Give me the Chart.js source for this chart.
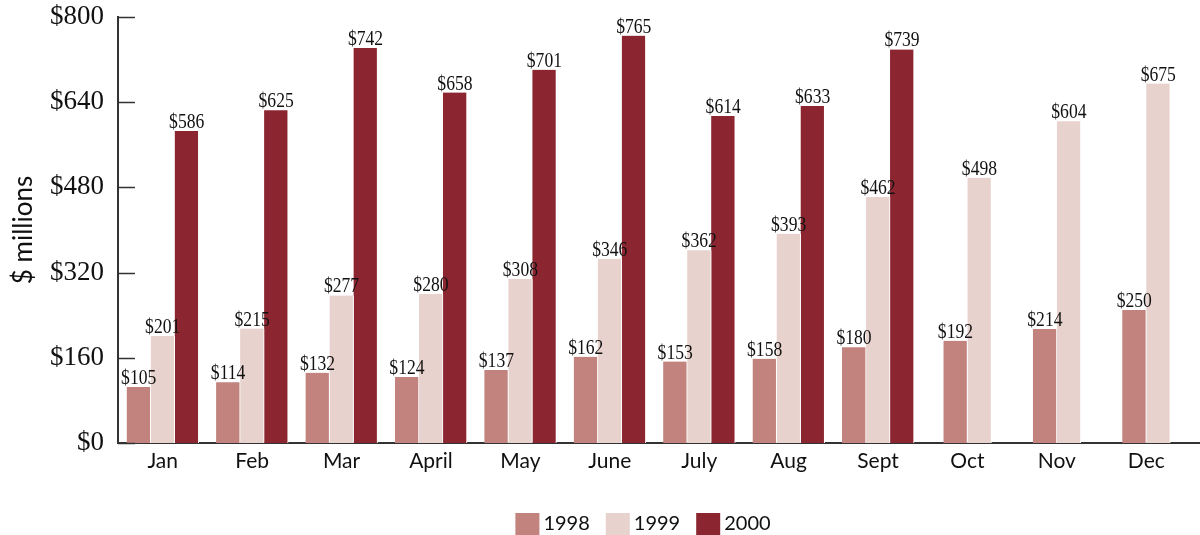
<!DOCTYPE html>
<html>
<head>
<meta charset="utf-8">
<script src="https://cdn.jsdelivr.net/npm/chart.js@4.4.1/dist/chart.umd.min.js"></script>
<style>
  html, body { margin: 0; padding: 0; background: #fff; }
  #wrap { width: 1200px; height: 535px; }
</style>
</head>
<body>
<div id="wrap"><canvas id="chart" width="1200" height="535"></canvas></div>
<script>
// Monthly values, $ millions
const months = ['Jan', 'Feb', 'Mar', 'April', 'May', 'June', 'July', 'Aug', 'Sept', 'Oct', 'Nov', 'Dec'];
const sales1998 = [105, 114, 132, 124, 137, 162, 153, 158, 180, 192, 214, 250];
const sales1999 = [201, 215, 277, 280, 308, 346, 362, 393, 462, 498, 604, 675];
const sales2000 = [586, 625, 742, 658, 701, 765, 614, 633, 739, null, null, null];
const yTicks = [0, 160, 320, 480, 640, 800];

const serif = '"Liberation Serif", "DejaVu Serif", serif';
const sans = 'Lato, "Open Sans", sans-serif';

// value labels above each bar, drawn a bit condensed
const barLabels = {
    id: 'barLabels',
    afterDatasetsDraw(chart) {
        const ctx = chart.ctx;
        ctx.save();
        ctx.fillStyle = '#111';
        ctx.font = '22px ' + serif;
        ctx.textAlign = 'center';
        ctx.textBaseline = 'alphabetic';
        chart.data.datasets.forEach((ds, i) => {
            chart.getDatasetMeta(i).data.forEach((bar, j) => {
                const v = ds.data[j];
                if (v == null) return;
                ctx.save();
                ctx.translate(bar.x, bar.y - 3);
                ctx.scale(0.8, 1);
                ctx.fillText('$' + v, 0, 0);
                ctx.restore();
            });
        });
        ctx.restore();
    }
};

// short tick marks pointing into the plot, and the x axis run out to the edge
const innerTicks = {
    id: 'innerTicks',
    afterDraw(chart) {
        const ctx = chart.ctx;
        const y = chart.scales.y;
        const area = chart.chartArea;
        ctx.save();
        ctx.strokeStyle = '#333';
        ctx.lineWidth = 1.5;
        yTicks.forEach(t => {
            const py = Math.round(y.getPixelForValue(t)) + 0.5;
            ctx.beginPath();
            ctx.moveTo(y.right, py);
            ctx.lineTo(y.right + 17, py);
            ctx.stroke();
        });
        ctx.lineWidth = 2;
        ctx.beginPath();
        ctx.moveTo(area.right - 1, area.bottom);
        ctx.lineTo(chart.width, area.bottom);
        ctx.stroke();
        ctx.restore();
    }
};

// legend row under the x axis
const bottomLegend = {
    id: 'bottomLegend',
    afterDraw(chart) {
        const ctx = chart.ctx;
        const items = chart.data.datasets;
        ctx.save();
        ctx.font = '20px ' + sans;
        ctx.textBaseline = 'middle';
        ctx.textAlign = 'left';
        const widths = items.map(ds => 24 + 4 + ctx.measureText(ds.label).width);
        const gap = 16;
        const total = widths.reduce((a, b) => a + b, 0) + gap * (items.length - 1);
        let x = 643 - total / 2;
        const yMid = 524;
        items.forEach((ds, i) => {
            ctx.fillStyle = ds.backgroundColor;
            ctx.fillRect(x, yMid - 11, 24, 22);
            ctx.fillStyle = '#111';
            ctx.fillText(ds.label, x + 28, yMid);
            x += widths[i] + gap;
        });
        ctx.restore();
    }
};

new Chart(document.getElementById('chart'), {
    type: 'bar',
    data: {
        labels: months,
        datasets: [
            { label: '1998', data: sales1998, backgroundColor: '#c2827d' },
            { label: '1999', data: sales1999, backgroundColor: '#e8d2cd' },
            { label: '2000', data: sales2000, backgroundColor: '#8b2630' }
        ]
    },
    options: {
        responsive: false,
        animation: false,
        layout: { padding: { top: 17, right: 9, left: 0, bottom: 50 } },
        datasets: {
            bar: {
                barThickness: 24,
                skipNull: true,
                borderColor: '#fff',
                borderWidth: { right: 1, left: 0, top: 0, bottom: 0 },
                borderSkipped: false
            }
        },
        scales: {
            x: {
                grid: { display: false, drawTicks: false },
                border: { display: true, color: '#333', width: 2 },
                ticks: {
                    color: '#111',
                    font: { family: sans, size: 21 },
                    padding: 6
                },
                afterFit(scale) { scale.height = 42; }
            },
            y: {
                min: 0,
                max: 800,
                afterBuildTicks(scale) { scale.ticks = yTicks.map(v => ({ value: v })); },
                grid: { display: false, drawTicks: false },
                border: { display: true, color: '#333', width: 2 },
                ticks: {
                    color: '#111',
                    font: { family: serif, size: 27, lineHeight: 0.5 },
                    padding: 14,
                    callback: v => '$' + v
                },
                title: {
                    display: true,
                    text: '$ millions',
                    color: '#111',
                    font: { family: sans, size: 26 },
                    padding: { top: 8, bottom: 2 }
                },
                afterFit(scale) {
                    scale.width = 118;
                    scale.paddingTop = 0;
                    scale.paddingBottom = 0;
                }
            }
        },
        plugins: {
            legend: { display: false },
            tooltip: { enabled: false }
        }
    },
    plugins: [barLabels, innerTicks, bottomLegend]
});
</script>
</body>
</html>
